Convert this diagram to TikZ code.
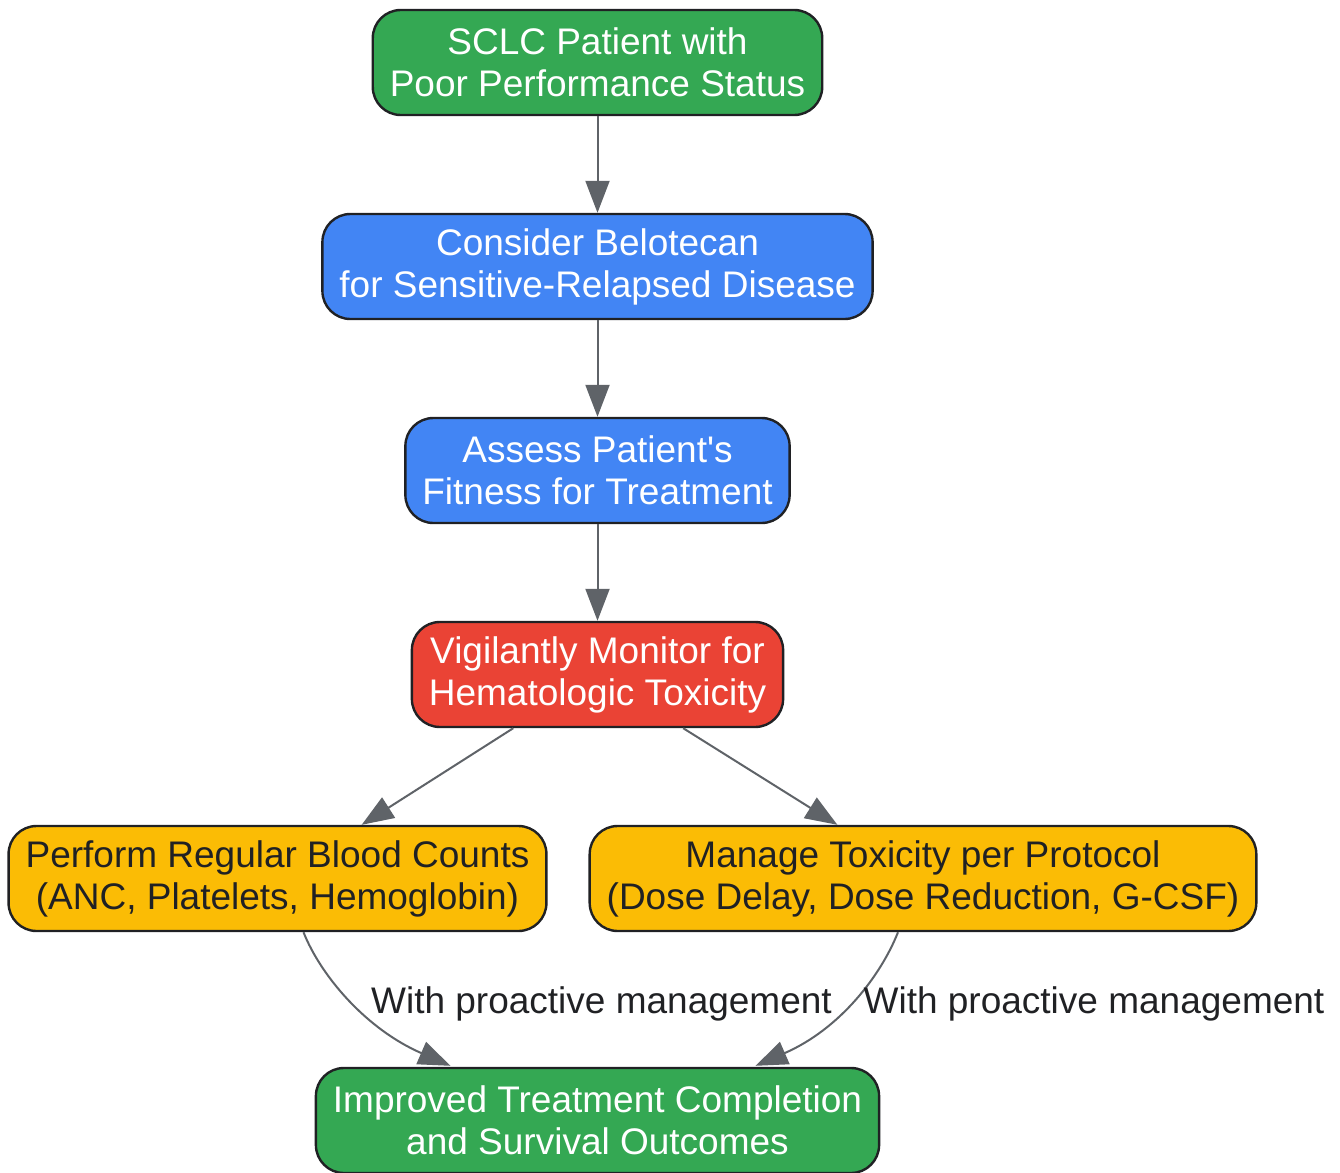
\documentclass[tikz,border=0pt]{standalone}
\usepackage{fontspec}
\setmainfont{Liberation Sans}
\usetikzlibrary{arrows.meta,calc}
\definecolor{gGreen}{HTML}{34A853}
\definecolor{gBlue}{HTML}{4285F4}
\definecolor{gRed}{HTML}{EA4335}
\definecolor{gYellow}{HTML}{FBBC05}
\definecolor{gInk}{HTML}{202124}
\definecolor{gEdge}{HTML}{5F6368}
\begin{document}
\begin{tikzpicture}[x=0.5pt,y=-0.5pt,
  box/.style={draw=gInk, line width=1.2pt, rounded corners=14pt, align=center,
    minimum height=52.5pt, inner xsep=8.5pt, inner ysep=3pt,
    font=\fontsize{18.5}{21}\selectfont},
  greenbox/.style={box, fill=gGreen, text=white},
  bluebox/.style={box, fill=gBlue, text=white},
  redbox/.style={box, fill=gRed, text=white},
  yellowbox/.style={box, fill=gYellow, text=gInk},
  edge/.style={draw=gEdge, line width=1pt, -{Triangle[length=16pt,width=12pt]}},
  lbl/.style={text=gInk, inner sep=0pt, font=\fontsize{18.5}{21}\selectfont}]
\useasboundingbox (0,0) rectangle (1340,1173);

\node[greenbox] (start) at (597.5,62.5) {SCLC Patient with\\Poor Performance Status};
\node[bluebox] (consider) at (597.5,266.5) {Consider Belotecan\\for Sensitive-Relapsed Disease};
\node[bluebox] (assess) at (597.5,470.5) {Assess Patient\textquotesingle s\\Fitness for Treatment};
\node[redbox] (monitor) at (597.5,674.5) {Vigilantly Monitor for\\Hematologic Toxicity};
\node[yellowbox] (counts) at (277.5,878.5) {Perform Regular Blood Counts\\(ANC, Platelets, Hemoglobin)};
\node[yellowbox] (manage) at (923,878.5) {Manage Toxicity per Protocol\\(Dose Delay, Dose Reduction, G-CSF)};
\node[greenbox] (outcome) at (597.5,1120.5) {Improved Treatment Completion\\and Survival Outcomes};

\path[edge] (start) -- (consider);
\path[edge] (consider) -- (assess);
\path[edge] (assess) -- (monitor);
\path[edge] (monitor) -- (counts);
\path[edge] (monitor) -- (manage);

\path[edge] ($(counts.south)+(26,0)$) .. controls +(17,43) and +(-85,-37) .. ($(outcome.north)+(-147,-1)$);
\path[edge] ($(manage.south)+(-25,0)$) .. controls +(-17,43) and +(85,-37) .. ($(outcome.north)+(158,-1)$);

\node[lbl] (lbl1) at (601.5,1004) {With proactive management};
\node[lbl] (lbl2) at (1094,1004) {With proactive management};
\end{tikzpicture}
\end{document}
